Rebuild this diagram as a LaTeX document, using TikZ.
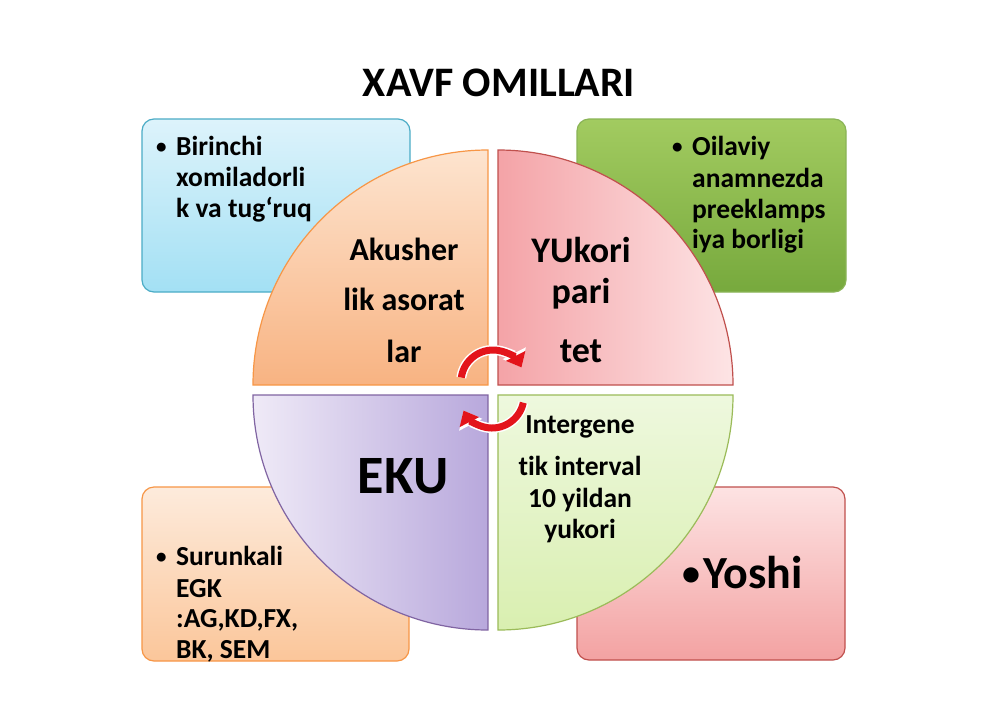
\documentclass[tikz,border=0pt]{standalone}
\usepackage{fontspec}
\setmainfont{Carlito}[Ligatures=NoCommon]
\usetikzlibrary{arrows.meta}
\definecolor{blueTop}{HTML}{DDF3FB}
\definecolor{blueBot}{HTML}{A3E0F4}
\definecolor{blueLine}{HTML}{4BACC6}
\definecolor{greenTop}{HTML}{A2CB60}
\definecolor{greenBot}{HTML}{77A93D}
\definecolor{greenLine}{HTML}{8AB456}
\definecolor{peachTop}{HTML}{FDEBDC}
\definecolor{peachBot}{HTML}{FBC69A}
\definecolor{peachLine}{HTML}{F79646}
\definecolor{pinkTop}{HTML}{FDE3E3}
\definecolor{pinkBot}{HTML}{F3A2A2}
\definecolor{pinkLine}{HTML}{C0504D}
\definecolor{qoTop}{HTML}{FDE4CF}
\definecolor{qoBot}{HTML}{F8B382}
\definecolor{qpL}{HTML}{F4A3A7}
\definecolor{qpR}{HTML}{FDE4E5}
\definecolor{quL}{HTML}{EFEAF7}
\definecolor{quR}{HTML}{B8A8DC}
\definecolor{quLine}{HTML}{8064A2}
\definecolor{qgTop}{HTML}{EEF8DE}
\definecolor{qgBot}{HTML}{D9EFB0}
\definecolor{qgLine}{HTML}{9BBB59}
\definecolor{arrowred}{HTML}{E3141B}
\tikzset{
  card/.style={rounded corners=12pt, line width=1.2pt},
  quarter/.style={line width=1.2pt},
  rtext/.style={font=\fontsize{27.5}{32}\selectfont\bfseries, inner sep=0pt, anchor=base west},
  bul/.style={font=\fontsize{21}{24}\selectfont\bfseries, inner sep=0pt, anchor=base west},
  qtext/.style={inner sep=0pt, anchor=base},
  cycwhite/.style={line width=10pt, draw=white, -{Triangle[length=16pt,width=25pt]}},
  cycred/.style={line width=7pt, draw=arrowred, -{Triangle[length=13pt,width=21pt]}},
}
\begin{document}
\begin{tikzpicture}[x=1pt,y=-1pt]
\useasboundingbox[fill=white] (0,0) rectangle (1000,707);
% title
\node[qtext, font=\fontsize{42}{48}\selectfont\bfseries] (title) at (499,96) {XAVF OMILLARI};
% corner cards
\shade[card, top color=blueTop, bottom color=blueBot, draw=blueLine] (142,119) rectangle (410,292);
\shade[card, top color=greenTop, bottom color=greenBot, draw=greenLine] (577,119) rectangle (846,292);
\shade[card, top color=peachTop, bottom color=peachBot, draw=peachLine] (142,487) rectangle (409,661);
\shade[card, top color=pinkTop, bottom color=pinkBot, draw=pinkLine] (577,487) rectangle (845,660);
% card texts
\node[bul] (b1) at (156,153) {•};
\node[rtext] (t1a) at (176,155) {Birinchi};
\node[rtext] (t1b) at (176,186) {xomiladorli};
\node[rtext] (t1c) at (176,217) {k va tug‘ruq};
\node[bul] (b2) at (672,153) {•};
\node[rtext] (t2a) at (692,155) {Oilaviy};
\node[rtext] (t2b) at (692,187) {anamnezda};
\node[rtext] (t2c) at (692,218) {preeklamps};
\node[rtext] (t2d) at (692,248) {iya borligi};
% quarters
\shade[quarter, top color=qoTop, bottom color=qoBot, draw=peachLine]
  (488,385) -- (253,385) arc[start angle=180, end angle=270, radius=235] -- cycle;
\shade[quarter, left color=qpL, right color=qpR, draw=pinkLine]
  (498,385) -- (498,150) arc[start angle=270, end angle=360, radius=235] -- cycle;
\shade[quarter, left color=quL, right color=quR, draw=quLine]
  (488,395) -- (253,395) arc[start angle=180, end angle=90, radius=235] -- cycle;
\shade[quarter, top color=qgTop, bottom color=qgBot, draw=qgLine]
  (498,395) -- (733,395) arc[start angle=0, end angle=90, radius=235] -- cycle;
% lower card texts (after quarters)
\node[bul] (b3) at (156,563) {•};
\node[rtext] (t3a) at (176,565) {Surunkali};
\node[rtext] (t3b) at (176,597) {EGK};
\node[rtext] (t3c) at (176,627) {:AG,KD,FX,};
\node[rtext] (t3d) at (176,658) {BK, SEM};
\node[bul, font=\fontsize{36}{40}\selectfont\bfseries] (b4) at (682,585) {•};
\node[rtext, font=\fontsize{46}{54}\selectfont\bfseries] (t4) at (703,588) {Yoshi};
% quarter texts
\node[qtext, font=\fontsize{32}{36}\selectfont\bfseries] (q1a) at (404,260) {Akusher};
\node[qtext, font=\fontsize{32}{36}\selectfont\bfseries] (q1b) at (404,310) {lik asorat};
\node[qtext, font=\fontsize{32}{36}\selectfont\bfseries] (q1c) at (404,362) {lar};
\node[qtext, font=\fontsize{36}{42}\selectfont\bfseries] (q2a) at (581,262) {YUkori};
\node[qtext, font=\fontsize{36}{42}\selectfont\bfseries] (q2b) at (581,303) {pari};
\node[qtext, font=\fontsize{36}{42}\selectfont\bfseries] (q2c) at (581,362) {tet};
\node[qtext, font=\fontsize{54}{60}\selectfont\bfseries] (q3) at (403,493) {EKU};
\node[qtext, font=\fontsize{27.5}{32}\selectfont\bfseries] (q4a) at (580,433) {Intergene};
\node[qtext, font=\fontsize{27.5}{32}\selectfont\bfseries] (q4b) at (580,475) {tik interval};
\node[qtext, font=\fontsize{27.5}{32}\selectfont\bfseries] (q4c) at (580,507) {10 yildan};
\node[qtext, font=\fontsize{27.5}{32}\selectfont\bfseries] (q4d) at (580,538) {yukori};
% circular arrows
\coordinate (ca) at (493,382);
\coordinate (cb) at (492,396);
\draw[cycwhite] ([shift={(188:32)}]ca) arc[start angle=188, end angle=333, radius=32];
\draw[cycred] ([shift={(188:32)}]ca) arc[start angle=188, end angle=333, radius=32];
\draw[cycwhite] ([shift={(12:32)}]cb) arc[start angle=12, end angle=153, radius=32];
\draw[cycred] ([shift={(12:32)}]cb) arc[start angle=12, end angle=153, radius=32];
\end{tikzpicture}
\end{document}
